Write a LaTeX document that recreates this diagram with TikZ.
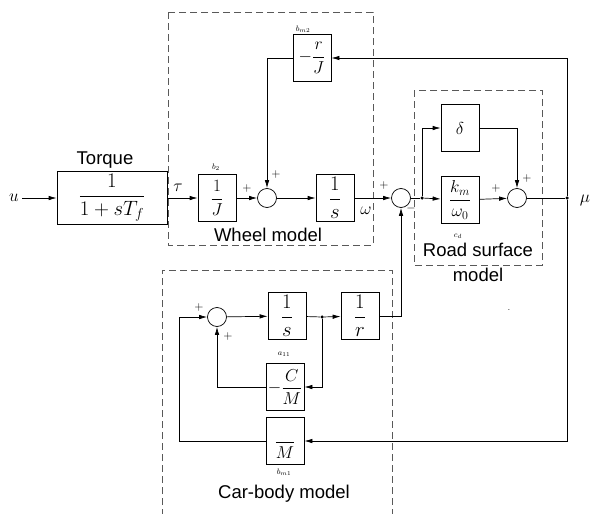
\documentclass[tikz,border=0pt]{standalone}
\usepackage{fontspec}
\setmainfont{Liberation Sans}
\usetikzlibrary{arrows.meta,positioning}

\tikzset{
  blk/.style={draw, minimum width=38pt, minimum height=47pt, inner sep=0pt, font=\fontsize{17}{18}\selectfont},
  sumc/.style={draw, circle, minimum size=19pt, inner sep=0pt},
  grp/.style={draw, dash pattern=on 7pt off 4pt, black!65},
  sgn/.style={font=\fontsize{12}{12}\selectfont, inner sep=0pt},
  tag/.style={font=\fontsize{8}{8}\selectfont, inner sep=0pt},
  ttl/.style={font=\fontsize{18.5}{20}\selectfont, inner sep=0pt},
  jn/.style={circle, fill, inner sep=0pt, minimum size=3.5pt},
}

\begin{document}
\begin{tikzpicture}[x=1pt, y=-1pt, >={Latex[length=8pt,width=4.5pt]}, line width=0.7pt]
\useasboundingbox (0,0) rectangle (592,514);

% model frames
\draw[grp] (168,12) rectangle (373,245);
\draw[grp] (414,90) rectangle (542,265);
\draw[grp] (162,516) |- (392,270) -- (392,516);

% input and torque
\node[font=\fontsize{19}{19}\selectfont] (u) at (14,198) {$u$};
\node[blk, minimum width=110pt, minimum height=53pt, font=\fontsize{21.5}{22}\selectfont] (torq) at (112,198) {$\displaystyle\frac{1}{1+sT_f}$};
\node[ttl] (torqt) at (105,160) {Torque};

% wheel model
\node[blk] (jb) at (217,198) {$\displaystyle\frac{1}{J}$};
\node[tag] (jbt) at (216,167) {$b_2$};
\node[sumc] (s1) at (267,198) {};
\node[blk, font=\fontsize{20}{21}\selectfont] (wsb) at (335,198) {$\displaystyle\frac{1}{s}$};
\node[blk] (rjb) at (312,58) {$\displaystyle-\frac{r}{J}$};
\node[tag] (rjbt) at (303,29) {$b_{m2}$};
\node[ttl] (wheelt) at (268,235) {Wheel model};

% road surface model
\node[sumc] (s2) at (401,198) {};
\node[jn] (d1) at (422,198) {};
\node[blk, font=\fontsize{19}{20}\selectfont] (db) at (460,128) {$\delta$};
\node[blk] (kb) at (460,200) {$\displaystyle\frac{k_m}{\omega_0}$};
\node[tag] (kbt) at (458,236) {$c_d$};
\node[sumc] (s3) at (517,198) {};
\node[jn] (d2) at (567,198) {};
\node[font=\fontsize{19}{19}\selectfont] (mu) at (585,200) {$\mu$};
\node[ttl] (roadt) at (478,250) {Road surface};
\node[ttl] (roadt2) at (478,275) {model};
\node[font=\fontsize{8}{8}\selectfont, inner sep=0pt] (spot) at (509,310) {.};

% car-body model
\node[sumc] (s4) at (217,317) {};
\node[blk, font=\fontsize{20}{21}\selectfont] (csb) at (287,316) {$\displaystyle\frac{1}{s}$};
\node[jn] (d3) at (322,317) {};
\node[blk, font=\fontsize{20}{21}\selectfont] (irb) at (360,316) {$\displaystyle\frac{1}{r}$};
\node[tag] (csbt) at (284,354) {$a_{11}$};
\node[blk] (cmb) at (285,387) {$\displaystyle-\frac{C}{M}$};
\node[blk] (mb) at (285,441) {$\displaystyle\frac{\vphantom{1}}{M}$};
\node[tag] (mbt) at (284,472) {$b_{m1}$};
\node[ttl] (cart) at (284,494) {Car-body model};

\coordinate (rtop) at (567,58);
\coordinate (rbot) at (567,441);
\coordinate (lft) at (179,441);

% signal paths
\draw[->] (u) -- (torq);
\draw[->] (torq) -- (jb);
\draw[->] (jb) -- (s1);
\draw[->] (s1) -- (wsb);
\draw[->] (wsb) -- (s2);
\draw (s2) -- (d1);
\draw[->] (d1) -- (kb);
\draw[->] (d1) |- (db);
\draw[->] (db) -| (s3);
\draw[->] (kb) -- (s3);
\draw (s3) -- (d2);
\draw[->] (d2) -- (rtop) -- (rjb);
\draw[->] (d2) -- (rbot) -- (mb);
\draw[->] (rjb) -| (s1);
\draw[->] (s4) -- (csb);
\draw (csb) -- (d3);
\draw[->] (d3) -- (irb);
\draw[->] (irb) -| (s2);
\draw[->] (d3) |- (cmb);
\draw[->] (cmb) -| (s4);
\draw[->] (mb) -- (lft) |- (s4);

% signs and signal names
\node[font=\fontsize{16}{16}\selectfont] (tau) at (178,188) {$\tau$};
\node[font=\fontsize{18}{18}\selectfont] (om) at (366,211) {$\omega$};
\node[sgn] (p1) at (247,188) {$+$};
\node[sgn] (p2) at (276,174) {$+$};
\node[sgn] (p3) at (384,185) {$+$};
\node[sgn] (m3) at (411,208) {$-$};
\node[sgn] (p4) at (496,188) {$+$};
\node[sgn] (p5) at (527,178) {$+$};
\node[sgn] (p6) at (199,307) {$+$};
\node[sgn] (p7) at (228,336) {$+$};
\end{tikzpicture}
\end{document}
